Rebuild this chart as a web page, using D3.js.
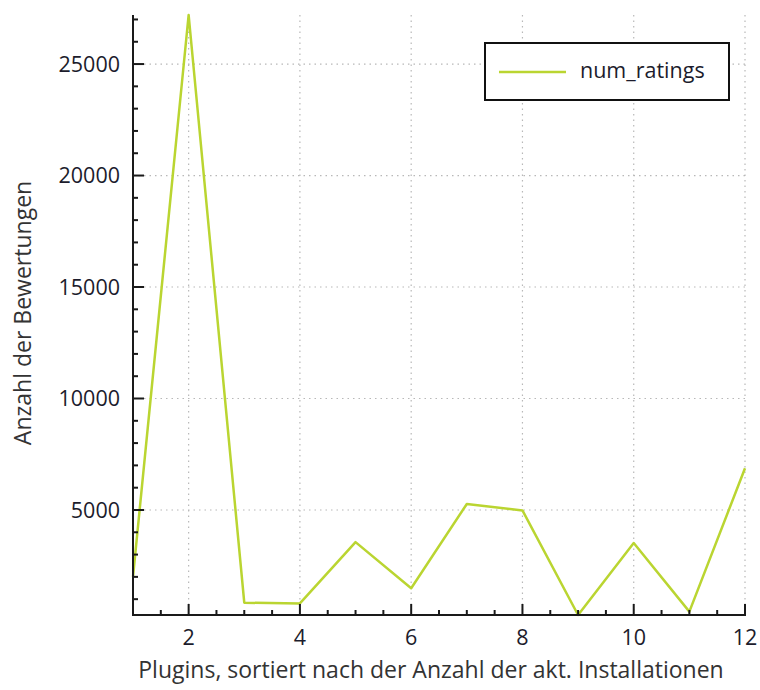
<!DOCTYPE html>
<html><head><meta charset="utf-8">
<script src="https://cdn.jsdelivr.net/npm/d3@7"></script>
<style>body{margin:0;background:#fff}</style>
</head><body>
<script>
const plugins = [1,2,3,4,5,6,7,8,9,10,11,12];
const numRatings = [2000,27200,840,810,3560,1490,5270,4980,290,3520,440,6870];
const seriesName = "num_ratings";
const xTickValues = [2,4,6,8,10,12];
const yTickValues = [5000,10000,15000,20000,25000];
const xTitle = "Plugins, sortiert nach der Anzahl der akt. Installationen";
const yTitle = "Anzahl der Bewertungen";

const W=760,H=690;
const L=133,R=745,T=15,B=615;
const font = "'Open Sans', 'DejaVu Sans', sans-serif";
const svg=d3.select("body").append("svg").attr("width",W).attr("height",H);

const x=d3.scaleLinear().domain([1,12]).range([L,R]);
const y=d3.scaleLinear().domain([d3.min(numRatings),d3.max(numRatings)]).range([B,T]);

// grid
const g=svg.append("g");
g.selectAll("line.gy").data(yTickValues).join("line")
 .attr("x1",L).attr("x2",R).attr("y1",d=>y(d)).attr("y2",d=>y(d))
 .attr("stroke","#b8b8b8").attr("stroke-width",1.2).attr("stroke-dasharray","1.5,4");
g.selectAll("line.gx").data(xTickValues).join("line")
 .attr("x1",d=>x(d)).attr("x2",d=>x(d)).attr("y1",T).attr("y2",B)
 .attr("stroke","#b8b8b8").attr("stroke-width",1.2).attr("stroke-dasharray","1.5,4");

// line
svg.append("path").datum(plugins.map((p,i)=>[p,numRatings[i]]))
 .attr("fill","none").attr("stroke","#bad531").attr("stroke-width",2.5)
 .attr("stroke-linejoin","round")
 .attr("d",d3.line().x(d=>x(d[0])).y(d=>y(d[1])));

// axes
const ax=svg.append("g").attr("stroke","#1a1a1a").attr("stroke-width",2);
ax.append("line").attr("x1",L).attr("x2",L).attr("y1",T).attr("y2",B+1);
ax.append("line").attr("x1",L-1).attr("x2",R+1).attr("y1",B).attr("y2",B);
const yMinor=d3.range(1000,28000,1000).filter(v=>v>=y.domain()[0]&&v<=y.domain()[1]);
ax.selectAll("line.yt").data(yMinor).join("line")
 .attr("x1",L).attr("x2",d=>L+(d%5000===0?11:5))
 .attr("y1",d=>y(d)).attr("y2",d=>y(d));
const xMinor=d3.range(1.5,12.01,0.5);
ax.selectAll("line.xt").data(xMinor).join("line")
 .attr("x1",d=>x(d)).attr("x2",d=>x(d))
 .attr("y1",B).attr("y2",d=>B-(d%2===0?11:5));

// tick labels
svg.selectAll("text.yl").data(yTickValues).join("text")
 .attr("x",L-13).attr("y",d=>y(d)).attr("dy","0.36em")
 .attr("text-anchor","end").attr("font-family",font).attr("font-size",21.5)
 .attr("fill","#1c1c2c").text(d=>d);
svg.selectAll("text.xl").data(xTickValues).join("text")
 .attr("x",d=>x(d)).attr("y",645)
 .attr("text-anchor","middle").attr("font-family",font).attr("font-size",21.5)
 .attr("fill","#1c1c2c").text(d=>d);

// titles
svg.append("text").attr("x",431).attr("y",678)
 .attr("text-anchor","middle").attr("font-family",font).attr("font-size",23)
 .attr("fill","#333").text(xTitle);
svg.append("text").attr("transform","translate(31,313) rotate(-90)")
 .attr("text-anchor","middle").attr("font-family",font).attr("font-size",23)
 .attr("fill","#333").text(yTitle);

// legend
const lg=svg.append("g");
lg.append("rect").attr("x",485).attr("y",43).attr("width",244).attr("height",57)
 .attr("fill","#fff").attr("stroke","#111").attr("stroke-width",2);
lg.append("line").attr("x1",499).attr("x2",566).attr("y1",72).attr("y2",72)
 .attr("stroke","#bad531").attr("stroke-width",2.5);
lg.append("text").attr("x",580).attr("y",78)
 .attr("font-family",font).attr("font-size",21.5).attr("fill","#1c1c2c").text(seriesName);
</script>
</body></html>
